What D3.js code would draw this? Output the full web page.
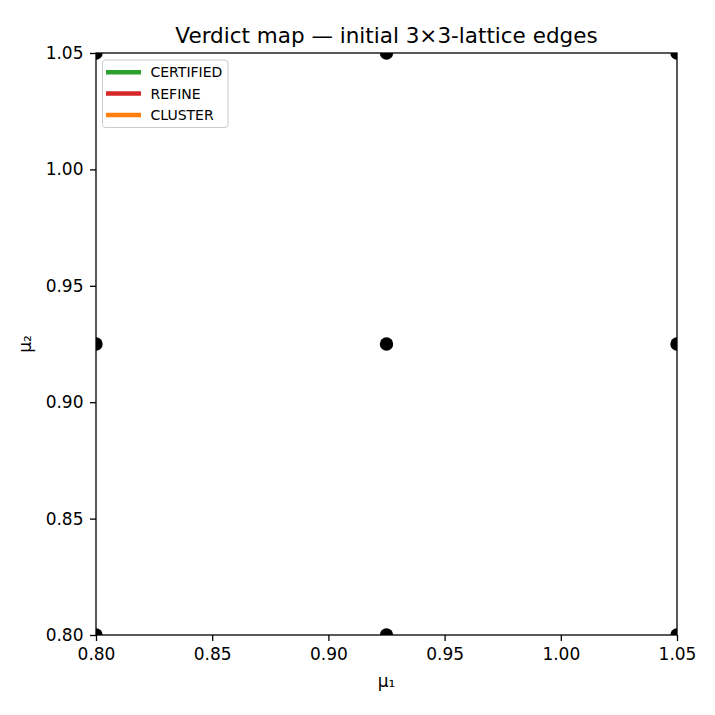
<!DOCTYPE html>
<html><head><meta charset="utf-8">
<script src="https://cdn.jsdelivr.net/npm/d3@7"></script>
<style>body{margin:0;background:#fff}svg{display:block}text{font-family:"DejaVu Sans",sans-serif}</style>
</head><body>
<svg id="c" width="715" height="715"></svg>
<script>
const mu1Values = [0.8, 0.925, 1.05];
const mu2Values = [0.8, 0.925, 1.05];
const xTicks = [0.80, 0.85, 0.90, 0.95, 1.00, 1.05];
const yTicks = [0.80, 0.85, 0.90, 0.95, 1.00, 1.05];
const legendLabels = ["CERTIFIED", "REFINE", "CLUSTER"];
const legendColors = ["#2ca02c", "#d62728", "#ff7f0e"];
const edges = []; // no edges drawn in the reference

const svg = d3.select("#c");
const L = 96, R = 677, T = 53, B = 635;
const x = d3.scaleLinear().domain([0.8, 1.05]).range([L, R]);
const y = d3.scaleLinear().domain([0.8, 1.05]).range([B, T]);

svg.append("defs").append("clipPath").attr("id", "pc")
  .append("rect").attr("x", L).attr("y", T).attr("width", R - L).attr("height", B - T);

const nodes = [];
mu1Values.forEach(a => mu2Values.forEach(b => nodes.push([a, b])));
const g = svg.append("g").attr("clip-path", "url(#pc)");
g.selectAll("circle").data(nodes).enter().append("circle")
  .attr("cx", d => x(d[0])).attr("cy", d => y(d[1])).attr("r", 6.7).attr("fill", "#000");

const xa = svg.append("g").attr("transform", `translate(0,${B})`)
  .call(d3.axisBottom(x).tickValues(xTicks).tickFormat(d3.format(".2f")).tickSizeOuter(0).tickSize(6).tickPadding(6.5));
const ya = svg.append("g").attr("transform", `translate(${L},0)`)
  .call(d3.axisLeft(y).tickValues(yTicks).tickFormat(d3.format(".2f")).tickSizeOuter(0).tickSize(6).tickPadding(6.5));
[xa, ya].forEach(a => {
  a.attr("font-size", null).attr("font-family", null);
  a.select(".domain").remove();
  a.selectAll("text").attr("font-size", 17).attr("fill", "#000");
  a.selectAll("line").attr("stroke", "#000").attr("stroke-width", 1.3);
});
svg.append("rect").attr("x", L).attr("y", T).attr("width", R - L).attr("height", B - T)
  .attr("fill", "none").attr("stroke", "#000").attr("stroke-width", 1.3);

svg.append("text").attr("x", (L + R) / 2).attr("y", 43).attr("text-anchor", "middle")
  .attr("font-size", 21.5).text("Verdict map — initial 3×3-lattice edges");
svg.append("text").attr("x", (L + R) / 2).attr("y", 687).attr("text-anchor", "middle")
  .attr("font-size", 17).text("μ₁");
svg.append("text").attr("transform", `translate(31,${(T + B) / 2}) rotate(-90)`).attr("text-anchor", "middle")
  .attr("font-size", 17).text("μ₂");

const lg = svg.append("g");
lg.append("rect").attr("x", 102.5).attr("y", 60).attr("width", 125.5).attr("height", 67.5).attr("rx", 3)
  .attr("fill", "#fff").attr("fill-opacity", 0.8).attr("stroke", "#ccc");
legendLabels.forEach((t, i) => {
  const yy = 72.3 + i * 21.3;
  lg.append("line").attr("x1", 106).attr("x2", 141).attr("y1", yy).attr("y2", yy)
    .attr("stroke", legendColors[i]).attr("stroke-width", 4.5);
  lg.append("text").attr("x", 150.5).attr("y", yy + 5).attr("font-size", 14).text(t);
});
</script>
</body></html>
